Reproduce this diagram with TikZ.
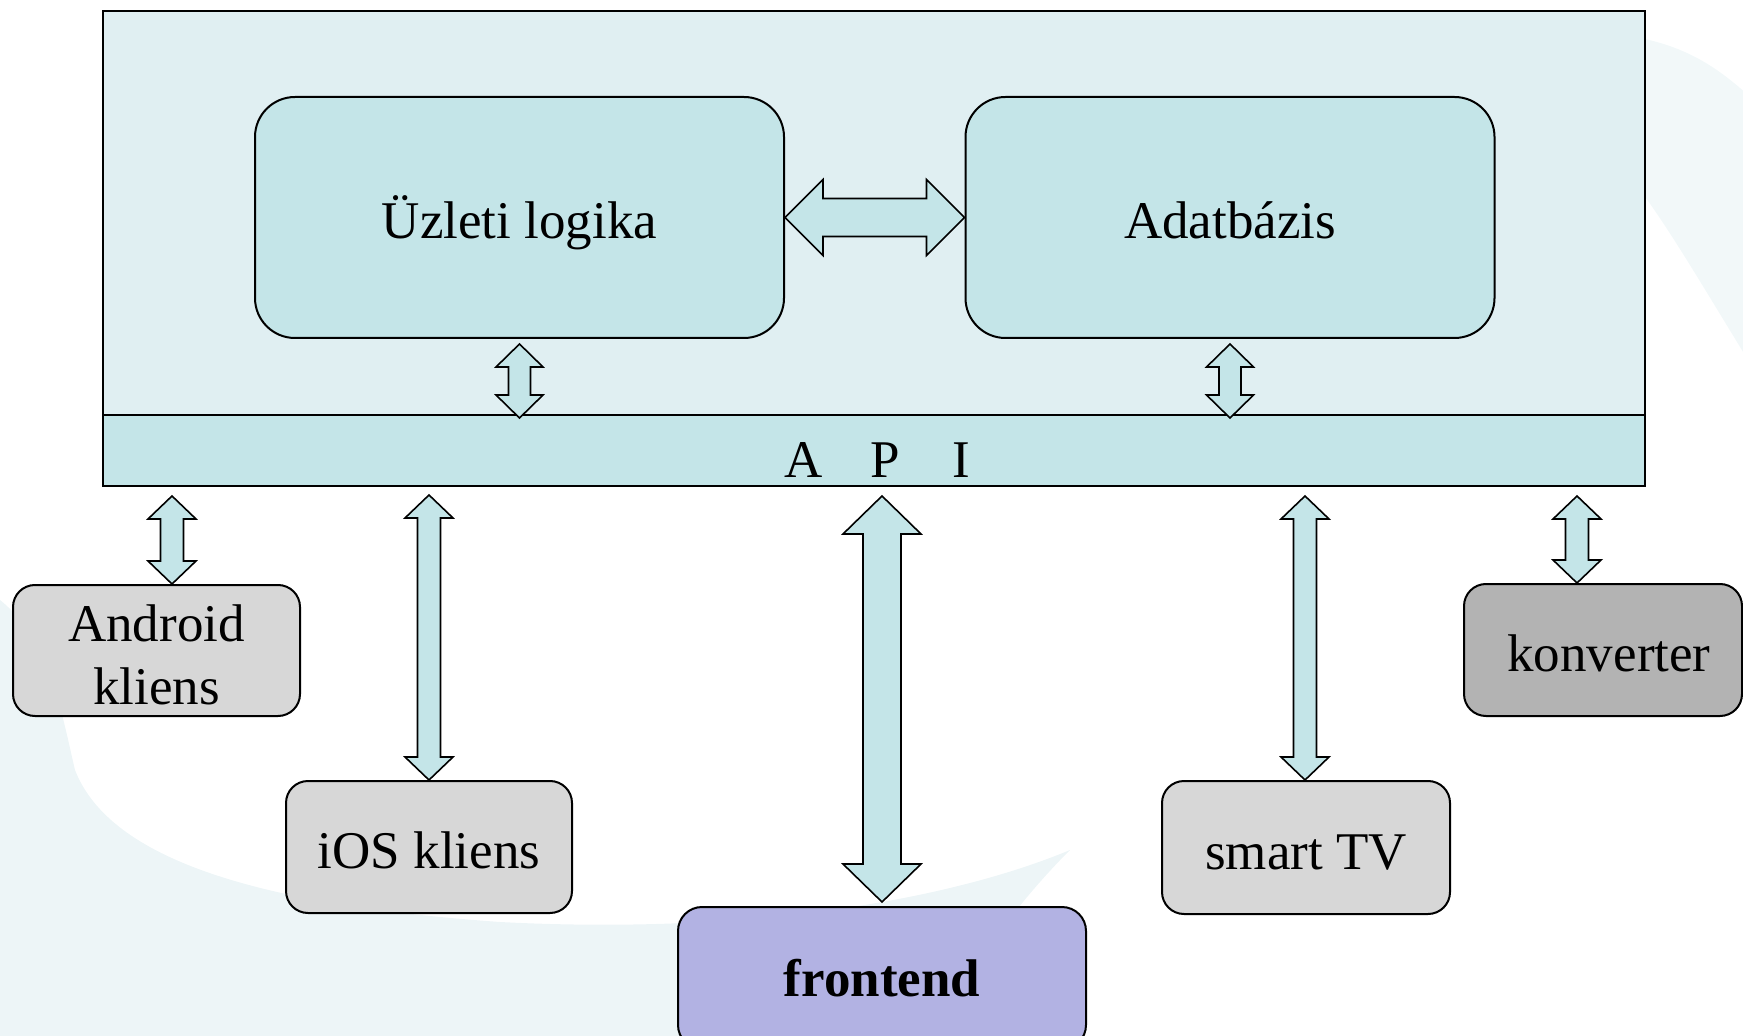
\documentclass[tikz,border=0pt]{standalone}
\usepackage{fontspec}
\setmainfont{Liberation Serif}
\usetikzlibrary{calc}
\definecolor{pale}{HTML}{EDF5F7}
\definecolor{paler}{HTML}{F2F8F9}
\definecolor{mainfill}{HTML}{E0EFF2}
\definecolor{tealfill}{HTML}{C4E5E8}
\definecolor{grayA}{HTML}{D7D7D7}
\definecolor{grayB}{HTML}{B3B3B3}
\definecolor{lav}{HTML}{B2B2E3}

% vertical double block arrow: #1 top tip, #2 bottom tip, #3 shaft half width, #4 head half width, #5 head length
\newcommand{\vdarrow}[5]{%
  \draw[blockarrow] let \p1=(#1), \p2=(#2) in
    (\x1,\y1) -- (\x1+#4,\y1-#5) -- (\x1+#3,\y1-#5) -- (\x1+#3,\y2+#5) -- (\x1+#4,\y2+#5)
    -- (\x1,\y2) -- (\x1-#4,\y2+#5) -- (\x1-#3,\y2+#5) -- (\x1-#3,\y1-#5) -- (\x1-#4,\y1-#5) -- cycle;}
% horizontal double block arrow: #1 left tip, #2 right tip
\newcommand{\hdarrow}[5]{%
  \draw[blockarrow] let \p1=(#1), \p2=(#2) in
    (\x1,\y1) -- (\x1+#5,\y1+#4) -- (\x1+#5,\y1+#3) -- (\x2-#5,\y1+#3) -- (\x2-#5,\y1+#4)
    -- (\x2,\y1) -- (\x2-#5,\y1-#4) -- (\x2-#5,\y1-#3) -- (\x1+#5,\y1-#3) -- (\x1+#5,\y1-#4) -- cycle;}

\begin{document}
\begin{tikzpicture}[x=0.5pt,y=-0.5pt,
  txt/.style={font=\fontsize{26.5pt}{31.5pt}\selectfont, align=center},
  oneline/.style={text height=21.5pt, text depth=0pt},
  blockarrow/.style={draw=black, line width=0.8pt, fill=tealfill, line join=miter},
  bigbox/.style={draw=black, line width=1pt, fill=tealfill, rounded corners=20pt, inner sep=0pt,
    minimum width=264.5pt, minimum height=120.5pt, txt, oneline},
  client/.style={draw=black, line width=1pt, fill=grayA, rounded corners=11pt, inner sep=0pt, txt}]
\useasboundingbox (0,0) rectangle (1743,1036);

% background swoosh
\begin{scope}
  \clip (0,0) rectangle (1743,1036);
  \fill[pale] (0,600) .. controls (50,640) and (62,715) .. (75,770)
     .. controls (110,860) and (260,905) .. (500,922)
     .. controls (750,935) and (950,900) .. (1070,850)
     .. controls (1000,920) and (960,990) .. (930,1040) -- (-5,1040) -- cycle;
  \fill[paler] (1640,38) .. controls (1690,48) and (1720,70) .. (1748,95)
     -- (1748,360) .. controls (1705,290) and (1670,230) .. (1640,190) -- cycle;
\end{scope}

% server frame and API band
\node[draw=black, line width=1pt, fill=mainfill, inner sep=0pt,
      minimum width=771pt, minimum height=237.5pt] (main) at (874,248.5) {};
\node[draw=black, line width=1pt, fill=tealfill, inner sep=0pt,
      minimum width=771pt, minimum height=35.5pt] (api) at (874,450.5) {};
\node[txt, anchor=base west, inner sep=0pt] (apitext) at (784,478) {A\hspace{24pt}P\hspace{26pt}I};

% inner boxes
\node[bigbox] (logic) at (519.5,217.5) {Üzleti logika};
\node[bigbox] (db) at (1230,217.5) {Adatbázis};

% clients
\node[client, text height=53.5pt, text depth=0pt,
      minimum width=143.5pt, minimum height=65.5pt] (andr) at (156.5,650.5) {Android\\kliens};
\node[client, oneline, minimum width=143pt, minimum height=66pt] (ios) at (429,847) {iOS kliens};
\node[client, fill=lav, rounded corners=12pt, minimum width=204pt, minimum height=71pt,
      font=\fontsize{26.5pt}{31.5pt}\selectfont\bfseries] (fe) at (882,978) {frontend};
\node[client, oneline, minimum width=144pt, minimum height=66.5pt] (tv) at (1306,847.5) {smart TV};
\node[client, oneline, fill=grayB, minimum width=139pt, minimum height=66pt] (conv) at (1603,650)
      {\hspace*{6pt}konverter};

% connector end points
\coordinate (lgT) at ($(logic.south)+(0,5)$);
\coordinate (lgB) at ($(api.north -| lgT)+(0,4)$);
\coordinate (dbT) at ($(db.south)+(0,5)$);
\coordinate (dbB) at ($(api.north -| dbT)+(0,4)$);

\coordinate (anB) at ($(andr.north)+(15.5,0)$);
\coordinate (anT) at ($(api.south -| anB)+(0,9)$);
\coordinate (ioB) at (ios.north);
\coordinate (ioT) at ($(api.south -| ioB)+(0,8)$);
\coordinate (feB) at ($(fe.north)+(0,-4)$);
\coordinate (feT) at ($(api.south -| feB)+(0,9)$);
\coordinate (tvB) at ($(tv.north)+(-1,0)$);
\coordinate (tvT) at ($(api.south -| tvB)+(0,9)$);
\coordinate (coB) at ($(conv.north)+(-26,0)$);
\coordinate (coT) at ($(api.south -| coB)+(0,9)$);

% arrows
\hdarrow{logic.east}{db.west}{9.5pt}{19pt}{19pt}
\vdarrow{lgT}{lgB}{5.5pt}{11.75pt}{11.5pt}
\vdarrow{dbT}{dbB}{5.5pt}{11.75pt}{11.5pt}
\vdarrow{anT}{anB}{5.75pt}{12pt}{11.5pt}
\vdarrow{ioT}{ioB}{5.75pt}{12pt}{11.5pt}
\vdarrow{feT}{feB}{9.5pt}{19.5pt}{19pt}
\vdarrow{tvT}{tvB}{5.75pt}{12pt}{11.5pt}
\vdarrow{coT}{coB}{5.75pt}{12pt}{11.5pt}
\end{tikzpicture}
\end{document}
